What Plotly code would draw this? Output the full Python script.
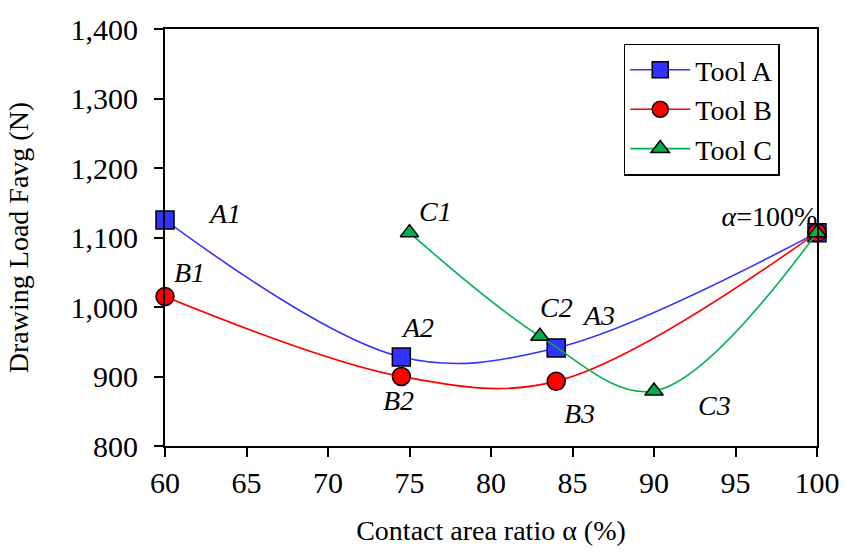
import plotly.graph_objects as go

# Contact area ratio (%) and average drawing load (N) for each tool
tool_a_x = [60, 74.5, 84, 100]
tool_a_y = [1125, 928, 941, 1107]
tool_b_x = [60, 74.5, 84, 100]
tool_b_y = [1015, 900, 893, 1107]
tool_c_x = [75, 83, 90, 100]
tool_c_y = [1107, 958, 879, 1107]

# Point labels (text, x, y)
label_text = ["A1", "B1", "A2", "B2", "C1", "C2", "A3", "B3", "C3"]
label_x = [63.65, 61.5, 75.5, 74.3, 76.6, 84.0, 86.6, 85.4, 93.7]
label_y = [1135, 1049, 971, 865, 1137, 999, 988, 847, 858]

x_ticks = [60, 65, 70, 75, 80, 85, 90, 95, 100]
y_ticks = [800, 900, 1000, 1100, 1200, 1300, 1400]

FONT = "Liberation Serif"

fig = go.Figure()

# full-contact label sits beneath the markers
fig.add_trace(go.Scatter(
    x=[97.08], y=[1127], mode="text",
    text=["<i>α</i>=100%"], textposition="middle center",
    textfont=dict(family=FONT, size=28, color="black"),
    showlegend=False, hoverinfo="skip", cliponaxis=False,
))

series = [
    ("Tool A", tool_a_x, tool_a_y, "#3333FF", "square", 18),
    ("Tool B", tool_b_x, tool_b_y, "#FF0000", "circle", 18),
    ("Tool C", tool_c_x, tool_c_y, "#00B050", "triangle-up", 16),
]
for name, xs, ys, color, symbol, size in series:
    fig.add_trace(go.Scatter(
        x=xs, y=ys, name=name, mode="lines+markers",
        line=dict(color=color, width=1.6, shape="spline", smoothing=1.0),
        marker=dict(symbol=symbol, size=size, color=color,
                    line=dict(color="black", width=1.5)),
        cliponaxis=False,
    ))

for t, x, y in zip(label_text, label_x, label_y):
    fig.add_annotation(
        x=x, y=y, text=f"<i>{t}</i>", showarrow=False,
        xanchor="center", yanchor="middle",
        font=dict(family=FONT, size=28, color="black"),
    )

axis_common = dict(
    showgrid=False, zeroline=False, showline=True, linecolor="black",
    linewidth=2, mirror=True, ticks="outside", ticklen=9, tickwidth=2,
    tickcolor="black", tickfont=dict(family=FONT, size=30, color="black"),
)

fig.update_xaxes(
    range=[60, 100], tickvals=x_ticks,
    title=dict(text="Contact area ratio α (%)",
               font=dict(family=FONT, size=28, color="black"), standoff=22),
    **axis_common,
)
fig.update_yaxes(
    range=[800, 1400], tickvals=y_ticks, tickformat=",d",
    ticklabelstandoff=10,
    title=dict(text="Drawing Load Favg (N)",
               font=dict(family=FONT, size=28, color="black"), standoff=34),
    **axis_common,
)

fig.update_layout(
    width=852, height=553,
    margin=dict(l=165, r=29, t=22, b=107),
    paper_bgcolor="white", plot_bgcolor="white",
    font=dict(family=FONT, color="black"),
    legend=dict(
        x=0.7036, y=0.965, xanchor="left", yanchor="top",
        bgcolor="white", bordercolor="black", borderwidth=1.5,
        font=dict(family=FONT, size=28, color="black"),
        tracegroupgap=0, itemwidth=60,
    ),
)

fig.write_html("out.html")
